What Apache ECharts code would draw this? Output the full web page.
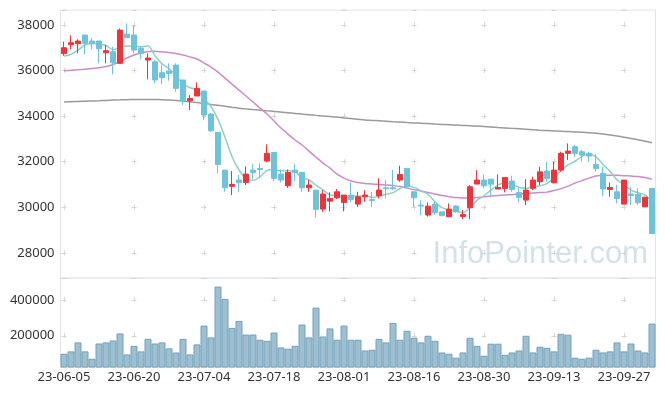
<!DOCTYPE html>
<html>
<head>
<meta charset="utf-8">
<script src="https://cdn.jsdelivr.net/npm/echarts@6/dist/echarts.min.js"></script>
<style>html,body{margin:0;padding:0;background:#fff;}#c{width:665px;height:396px;}</style>
</head>
<body>
<div id="c"></div>
<script>
const dates = ["23-06-05","23-06-07","23-06-08","23-06-09","23-06-12","23-06-13","23-06-14","23-06-15","23-06-16","23-06-19",
"23-06-20","23-06-21","23-06-22","23-06-23","23-06-26","23-06-27","23-06-28","23-06-29","23-06-30","23-07-03",
"23-07-04","23-07-05","23-07-06","23-07-07","23-07-10","23-07-11","23-07-12","23-07-13","23-07-14","23-07-17",
"23-07-18","23-07-19","23-07-20","23-07-21","23-07-24","23-07-25","23-07-26","23-07-27","23-07-28","23-07-31",
"23-08-01","23-08-02","23-08-03","23-08-04","23-08-07","23-08-08","23-08-09","23-08-10","23-08-11","23-08-14",
"23-08-16","23-08-17","23-08-18","23-08-21","23-08-22","23-08-23","23-08-24","23-08-25","23-08-28","23-08-29",
"23-08-30","23-08-31","23-09-01","23-09-04","23-09-05","23-09-06","23-09-07","23-09-08","23-09-11","23-09-12",
"23-09-13","23-09-14","23-09-15","23-09-18","23-09-19","23-09-20","23-09-21","23-09-22","23-09-25","23-09-26",
"23-09-27","23-10-04","23-10-05","23-10-06","23-10-10"];

const opens = [36740,37125,37170,37553,37290,37290,36775,36820,36310,37595,
37553,36970,36455,36380,35900,35975,36235,35580,34670,34880,
35095,34090,33285,31630,30920,31195,31090,31630,31705,32025,
32405,31455,30945,31630,31530,30855,30755,29920,30270,30415,
30215,30535,30140,30460,30345,30505,30855,30855,31195,31705,
30680,30096,29660,30130,29800,29585,30055,29600,29980,31020,
31195,31235,30800,30830,31150,30650,30315,30830,31120,31590,
31075,31630,32365,32655,32435,32365,31880,31485,30785,30680,
30140,30580,30565,30020,30830];
const closes = [36995,37215,37290,37190,37170,36950,36865,36340,37770,37435,
36895,36750,36545,35580,35680,35870,35215,34670,34775,35215,
34045,33355,31880,30855,31005,31075,31455,31515,31660,32365,
31265,31195,31530,31515,30855,30975,29910,30580,30390,30680,
30535,30345,30460,30535,30300,30755,30810,30810,31440,30900,
30415,30055,30050,29760,29630,29920,29800,29690,30900,31195,
30945,31015,30870,31310,30785,30435,30755,31195,31555,31265,
31630,32365,32465,32365,32290,32245,31705,30800,30870,30390,
31195,30520,30200,30445,28850];
const lows = [36645,36925,36750,36705,36925,36310,36310,35830,36310,37435,
36750,36490,35610,35435,35405,35550,35065,34480,34265,34880,
33825,33300,31490,30680,30535,30660,30975,31235,31270,31970,
31150,31090,30855,31150,30680,30680,29555,29800,29820,30360,
29820,30215,30020,30240,30020,30390,30390,30755,31120,30840,
30020,29658,29590,29660,29630,29585,29760,29480,29480,31005,
30830,30500,30800,30655,30680,30215,30096,30755,30975,31120,
31045,31555,32070,32215,31995,31995,31555,30500,30460,30170,
30140,30096,30096,30020,28850];
const highs = [37260,37540,37365,37553,37420,37290,37115,37040,37845,38065,
37990,37070,36750,36455,36235,36310,36310,35580,34920,35480,
35095,34130,33285,31630,31590,31415,31785,31890,31925,32760,
32405,31660,31660,31890,31530,31195,30755,30755,30655,30800,
30535,31090,30680,30755,30680,31275,31195,31630,31825,31705,
30680,30316,30215,30270,29800,30170,30096,29880,30975,31630,
31440,31235,31440,31310,31385,30855,31235,31340,31775,32000,
32000,32435,32800,32730,32510,32435,32320,31775,31090,30975,
31195,30900,30830,30445,30830];

const ma5 = [36630,36705,36895,37115,37190,37163,37093,36903,37019,37072,
37061,37038,37079,36641,36290,36085,35778,35403,35242,35149,
34784,34412,33854,33070,32228,31634,31254,31181,31342,31614,
31652,31600,31603,31574,31272,31214,30957,30767,30542,30507,
30419,30506,30482,30511,30435,30479,30572,30642,30823,30943,
30875,30724,30572,30236,29982,29883,29832,29760,29988,30301,
30506,30749,30985,31067,30985,30883,30831,30896,30945,31041,
31280,31602,31856,32018,32223,32346,32214,31881,31582,31202,
30992,30755,30635,30550,30242];
const ma20 = [35990,36005,36025,36050,36085,36120,36170,36260,36390,36545,
36675,36765,36830,36840,36815,36785,36740,36675,36590,36500,
36325,36150,35930,35665,35400,35140,34880,34615,34350,34090,
33780,33475,33210,32950,32730,32465,32200,31940,31720,31455,
31280,31150,31085,31040,31020,30995,30975,30950,30910,30840,
30775,30710,30645,30580,30515,30470,30425,30405,30405,30425,
30460,30490,30515,30535,30555,30580,30600,30625,30645,30665,
30735,30820,30930,31060,31170,31280,31370,31410,31410,31400,
31385,31370,31350,31305,31225];
const ma60 = [34620,34630,34640,34650,34660,34670,34685,34700,34710,34720,
34725,34730,34730,34725,34715,34700,34680,34655,34625,34590,
34550,34510,34470,34430,34385,34345,34315,34285,34260,34230,
34205,34175,34145,34115,34085,34060,34030,34005,33980,33955,
33920,33890,33860,33830,33810,33790,33770,33750,33735,33715,
33700,33685,33670,33650,33635,33620,33605,33590,33575,33560,
33545,33525,33500,33480,33460,33440,33420,33400,33380,33365,
33350,33335,33320,33305,33290,33270,33245,33210,33170,33125,
33075,33020,32960,32900,32830];
const volumes = [100000,113000,163000,113000,72000,157000,163000,174000,213000,96000,
144000,113000,183000,157000,163000,130000,107000,183000,96000,152000,
257000,191000,474000,406000,244000,283000,207000,207000,178000,172000,
218000,135000,128000,144000,263000,191000,357000,196000,241000,178000,
257000,178000,178000,118000,122000,183000,163000,272000,178000,228000,
189000,163000,200000,172000,107000,100000,78000,107000,189000,144000,
89000,156000,156000,94000,107000,118000,200000,107000,139000,133000,
113000,211000,206000,78000,72000,78000,122000,107000,113000,163000,
113000,157000,118000,107000,268000];
const priceRange = [26900, 38650];
const volumeRange = [26000, 522000];
const watermark = "InfoPointer.com";

const candles = dates.map((d, i) => [opens[i], closes[i], lows[i], highs[i]]);

const UP = '#ee343a', DOWN = '#6cc3da';
const gridLeft = 60.5, gridWidth = 595;
const labelFont = '"Noto Sans", sans-serif';
const plain = v => String(v);

const hSplit = {show: true, lineStyle: {color: '#d6d6d6', width: 1, type: [5, 65], dashOffset: 69}};

const chart = echarts.init(document.getElementById('c'), null, {renderer: 'canvas'});
chart.setOption({
  animation: false,
  backgroundColor: '#fff',
  grid: [
    {left: gridLeft, width: gridWidth, top: 10, height: 268, show: true, borderColor: '#e4e4e4', borderWidth: 1},
    {left: gridLeft, width: gridWidth, top: 278, height: 89, show: true, borderColor: '#e4e4e4', borderWidth: 1}
  ],
  xAxis: [
    {type: 'category', gridIndex: 0, data: dates, boundaryGap: true,
     axisLine: {show: false}, axisTick: {show: false}, axisLabel: {show: false},
     splitLine: {show: true, interval: 9, alignWithLabel: true,
       lineStyle: {color: '#d6d6d6', width: 1, type: [5, 40.62], dashOffset: 33.32}}},
    {type: 'category', gridIndex: 1, data: dates, boundaryGap: true,
     axisLine: {show: true, lineStyle: {color: '#e4e4e4'}}, axisTick: {show: false},
     axisLabel: {interval: 9, color: '#333', fontSize: 13, fontFamily: labelFont, margin: 4},
     splitLine: {show: true, interval: 9, alignWithLabel: true,
       lineStyle: {color: '#d6d6d6', width: 1, type: [5, 30.89], dashOffset: 17.09}}}
  ],
  yAxis: [
    {type: 'value', gridIndex: 0, min: priceRange[0], max: priceRange[1], splitNumber: 5,
     axisLine: {show: false}, axisTick: {show: false},
     axisLabel: {color: '#333', fontSize: 13, fontFamily: labelFont, margin: 6, showMinLabel: false, showMaxLabel: false, formatter: plain},
     splitLine: hSplit},
    {type: 'value', gridIndex: 1, min: volumeRange[0], max: volumeRange[1], splitNumber: 2,
     axisLine: {show: false}, axisTick: {show: false},
     axisLabel: {color: '#333', fontSize: 13, fontFamily: labelFont, margin: 6, showMinLabel: false, showMaxLabel: false, formatter: plain},
     splitLine: hSplit}
  ],
  graphic: [{
    type: 'text', x: 648, y: 254, z: 0,
    style: {text: watermark, font: '31px "Liberation Sans", Arial, sans-serif', fill: '#d3e2ea', align: 'right', verticalAlign: 'middle'}
  }],
  series: [
    {name: 'MA60', type: 'line', xAxisIndex: 0, yAxisIndex: 0, data: ma60, symbol: 'none', smooth: 0.3,
     lineStyle: {color: '#9a9a9a', width: 1.5}, z: 2},
    {name: 'MA20', type: 'line', xAxisIndex: 0, yAxisIndex: 0, data: ma20, symbol: 'none', smooth: 0.3,
     lineStyle: {color: '#c98dc8', width: 1.5}, z: 2},
    {name: 'MA5', type: 'line', xAxisIndex: 0, yAxisIndex: 0, data: ma5, symbol: 'none', smooth: 0.3,
     lineStyle: {color: '#8fd0c6', width: 1.5}, z: 2},
    {name: 'OHLC', type: 'candlestick', xAxisIndex: 0, yAxisIndex: 0, data: candles, barWidth: 5, z: 3,
     itemStyle: {color: UP, color0: DOWN, borderColor: UP, borderColor0: DOWN, borderWidth: 1}},
    {name: 'Volume', type: 'bar', xAxisIndex: 1, yAxisIndex: 1, data: volumes, barCategoryGap: '0%',
     itemStyle: {color: '#9cc0d1', borderColor: '#74a1b8', borderWidth: 1}}
  ]
});
</script>
</body>
</html>
